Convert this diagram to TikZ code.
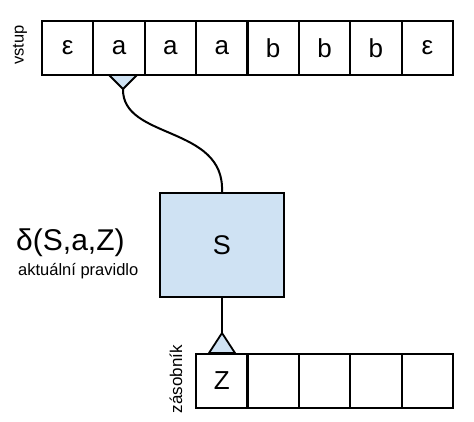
\documentclass[tikz,border=0pt]{standalone}
\usepackage{fontspec}
\setmainfont{Liberation Sans}
\definecolor{boxblue}{HTML}{CFE2F3}
\begin{document}
\begin{tikzpicture}[x=1pt,y=-1pt,
  cell/.style={draw=black, line width=2.2pt, minimum width=51.4pt, minimum height=54pt, inner sep=0pt, font=\fontsize{26}{30}\selectfont},
  state/.style={draw=black, line width=2.2pt, fill=boxblue, minimum width=124pt, minimum height=104pt, inner sep=0pt, font=\fontsize{27}{30}\selectfont},
  head/.style={draw=black, line width=1.8pt, fill=boxblue, line join=miter},
  wire/.style={draw=black, line width=2pt},
  lbl/.style={inner sep=0pt, font=\fontsize{16.5}{19}\selectfont}]
\useasboundingbox (0,0) rectangle (474,422);
% input tape
\foreach \t [count=\i] in {ε,a,a,a,b,b,b,ε}
  \node[cell] (in\i) at ({42+51.375*(\i-0.5)},48) {\t};
% stack
\foreach \i in {1,...,5}
  \node[cell] (st\i) at ({196+51.4*(\i-0.5)},381) {};
\node[font=\fontsize{26}{30}\selectfont] at (st1) {Z};
% state
\node[state] (S) at (222,245) {S};
% labels
\node[lbl, rotate=90, font=\fontsize{16.5}{19}\selectfont] (vstup) at (20,45) {vstup};
\node[lbl, rotate=90, font=\fontsize{17}{19}\selectfont] (zas) at (176,379) {zásobník};
\node[inner sep=0pt, anchor=west, font=\fontsize{30}{33}\selectfont] (delta) at (16,243) {δ(S,a,Z)};
\node[lbl, anchor=west] (akt) at (18,271) {aktuální pravidlo};
% read head
\coordinate (ta) at (123,89);
\draw[head] (109,75) -- (137,75) -- (ta) -- cycle;
\draw[wire] (ta) .. controls (122,140) and (225,125) .. (S.north);
% stack head
\coordinate (sa) at (222,333);
\draw[wire] (S.south) -- (sa);
\draw[head] (209,353) -- (235,353) -- (sa) -- cycle;
\end{tikzpicture}
\end{document}
